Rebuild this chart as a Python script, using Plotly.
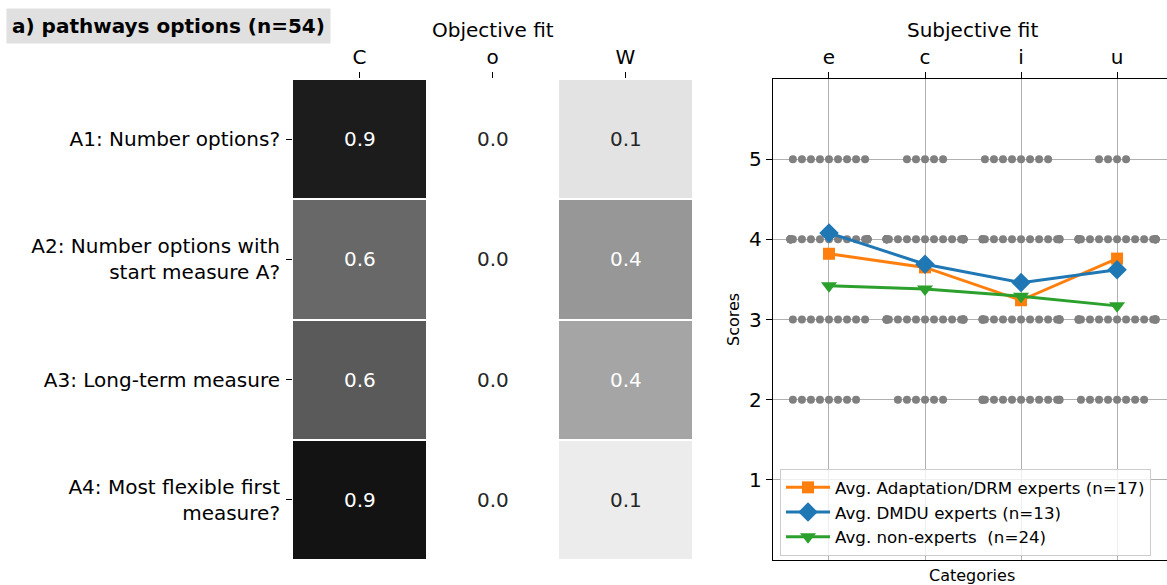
import plotly.graph_objects as go

# ---------------- data ----------------
row_labels = ["A1: Number options?",
              "A2: Number options with<br>start measure A?",
              "A3: Long-term measure",
              "A4: Most flexible first<br>measure?"]
obj_cols = ["C", "o", "W"]
obj_C = [0.889, 0.593, 0.648, 0.926]
obj_o = [0.0, 0.0, 0.0, 0.0]
obj_W = [0.111, 0.407, 0.352, 0.074]

categories = ["e", "c", "i", "u"]
score_levels = [5, 4, 3, 2]
counts_e = [9, 28, 9, 8]
counts_c = [5, 25, 18, 6]
counts_i = [8, 15, 17, 14]
counts_u = [4, 25, 17, 8]

avg_adapt = [3.82, 3.65, 3.24, 3.76]
avg_dmdu = [4.08, 3.69, 3.46, 3.62]
avg_non = [3.42, 3.38, 3.29, 3.17]

FONT = "DejaVu Sans"
W, H = 1167, 585
T, B = 79, 25
PH = H - T - B

def px_x(p):
    return p / W

def px_y(p):
    return (H - B - p) / PH

fig = go.Figure()

# ---------------- heatmap ----------------
z = [[obj_C[i], obj_o[i], obj_W[i]] for i in range(len(row_labels))]
fig.add_trace(go.Heatmap(
    z=z, x=obj_cols, y=row_labels,
    colorscale=[[0, "#ffffff"], [1, "#000000"]], zmin=0, zmax=1,
    showscale=False, xgap=0, ygap=2, hoverinfo="skip",
    xaxis="x", yaxis="y"))

annotations = []
for i, r in enumerate(row_labels):
    for j, c in enumerate(obj_cols):
        v = z[i][j]
        annotations.append(dict(
            x=c, y=r, xref="x", yref="y", text=f"{v:.1f}", showarrow=False,
            font=dict(family=FONT, size=20, color="white" if v > 0.33 else "#262626")))

# ---------------- swarm dots ----------------
def swarm_offsets(n, step=0.094, half=0.4):
    offs = []
    for j in range(n):
        if j == 0:
            o = 0.0
        else:
            m = (j + 1) // 2
            o = (-1 if j % 2 == 1 else 1) * m * step
        offs.append(max(-half, min(half, o)))
    return offs

dx, dy = [], []
for ci, counts in enumerate([counts_e, counts_c, counts_i, counts_u]):
    for lvl, n in zip(score_levels, counts):
        for o in swarm_offsets(n):
            dx.append(ci + o)
            dy.append(lvl)

fig.add_trace(go.Scatter(x=dx, y=dy, mode="markers",
                         marker=dict(color="#808080", size=8),
                         showlegend=False, hoverinfo="skip",
                         xaxis="x2", yaxis="y2"))

xs = list(range(len(categories)))
fig.add_trace(go.Scatter(x=xs, y=avg_adapt, mode="lines+markers",
                         name="Avg. Adaptation/DRM experts (n=17)",
                         line=dict(color="#ff7f0e", width=3),
                         marker=dict(symbol="square", size=12, color="#ff7f0e"),
                         xaxis="x2", yaxis="y2"))
fig.add_trace(go.Scatter(x=xs, y=avg_dmdu, mode="lines+markers",
                         name="Avg. DMDU experts (n=13)",
                         line=dict(color="#1f77b4", width=3),
                         marker=dict(symbol="diamond", size=15, color="#1f77b4"),
                         xaxis="x2", yaxis="y2"))
fig.add_trace(go.Scatter(x=xs, y=avg_non, mode="lines+markers",
                         name="Avg. non-experts  (n=24)",
                         line=dict(color="#2ca02c", width=3),
                         marker=dict(symbol="triangle-down", size=14, color="#2ca02c"),
                         xaxis="x2", yaxis="y2"))

# ---------------- text annotations ----------------
annotations += [
    dict(text="<b>a) pathways options (n=54)</b>", x=px_x(6), y=px_y(8),
         xref="paper", yref="paper", xanchor="left", yanchor="top", showarrow=False,
         bgcolor="#e0e0e0", borderpad=5, font=dict(family=FONT, size=20, color="black")),
    dict(text="Objective fit", x=px_x(492.5), y=px_y(30), xref="paper", yref="paper",
         xanchor="center", yanchor="middle",
         showarrow=False, font=dict(family=FONT, size=20, color="black")),
    dict(text="Subjective fit", x=px_x(972), y=px_y(30), xref="paper", yref="paper",
         xanchor="center", yanchor="middle",
         showarrow=False, font=dict(family=FONT, size=20, color="black")),
    dict(text="Categories", x=px_x(972), y=px_y(575), xref="paper", yref="paper",
         xanchor="center", yanchor="middle",
         showarrow=False, font=dict(family=FONT, size=16, color="black")),
    dict(text="Scores", x=px_x(733), y=px_y(320), xref="paper", yref="paper",
         xanchor="center", yanchor="middle",
         showarrow=False, textangle=-90, font=dict(family=FONT, size=16, color="black")),
]

tickfont = dict(family=FONT, size=20, color="black")
fig.update_layout(
    width=W, height=H, autosize=False,
    margin=dict(l=0, r=0, t=T, b=B),
    paper_bgcolor="white", plot_bgcolor="white",
    showlegend=True,
    xaxis=dict(domain=[px_x(293), px_x(692)], side="top", type="category",
               ticks="outside", ticklen=6, tickcolor="black", tickfont=tickfont,
               showgrid=False, showline=False, zeroline=False, automargin=False,
               anchor="y"),
    yaxis=dict(domain=[0, 1], autorange="reversed", type="category",
               ticks="outside", ticklen=6, tickcolor="black", tickfont=tickfont,
               ticklabelstandoff=2,
               showgrid=False, showline=False, zeroline=False, automargin=False,
               anchor="x"),
    xaxis2=dict(domain=[px_x(773), 1.0], side="top", range=[-0.583, 3.52],
                tickvals=xs, ticktext=categories,
                ticks="outside", ticklen=6, tickcolor="black", tickfont=tickfont,
                showgrid=True, gridcolor="#b0b0b0", gridwidth=1,
                showline=True, linecolor="black", linewidth=1.3, mirror=True,
                zeroline=False, automargin=False, anchor="y2"),
    yaxis2=dict(domain=[0, 1], range=[0, 6], tickvals=[1, 2, 3, 4, 5],
                ticks="outside", ticklen=6, tickcolor="black", tickfont=tickfont,
                showgrid=True, gridcolor="#b0b0b0", gridwidth=1,
                showline=True, linecolor="black", linewidth=1.3,
                zeroline=False, automargin=False, anchor="x2"),
    legend=dict(x=px_x(780), y=px_y(469), xanchor="left", yanchor="top",
                bgcolor="rgba(255,255,255,0.8)", bordercolor="#cccccc", borderwidth=1,
                itemwidth=44,
                font=dict(family=FONT, size=16.7, color="black"), traceorder="normal"),
    annotations=annotations,
)

fig.write_html("out.html")
